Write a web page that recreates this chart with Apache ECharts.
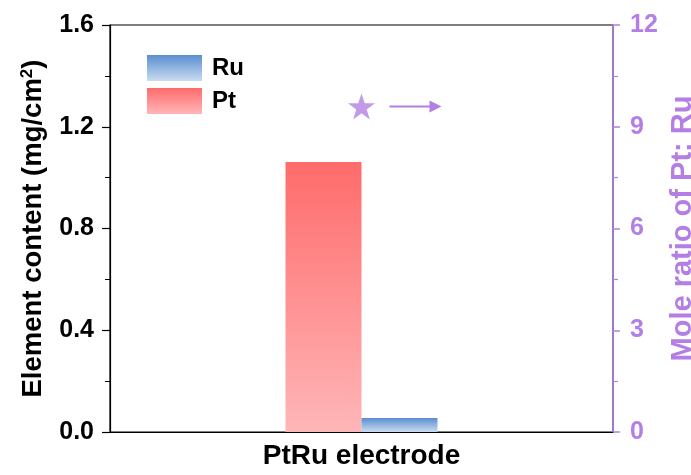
<!DOCTYPE html>
<html>
<head>
<meta charset="utf-8">
<script src="https://cdn.jsdelivr.net/npm/echarts@6/dist/echarts.min.js"></script>
<style>html,body{margin:0;padding:0;background:#fff}#c{width:691px;height:475px}</style>
</head>
<body>
<div id="c"></div>
<script>
var categories = ['PtRu electrode'];
var ptValues = [1.061];
var ruValues = [0.055];
var ratioValues = [9.6];
var leftTicks = [0, 0.4, 0.8, 1.2, 1.6];
var rightTicks = [0, 3, 6, 9, 12];

var purple = '#b47fe4';
var font = 'Liberation Sans, Arial, sans-serif';
var starPath = 'path://M50,0 L61.8,35.4 L99,35.4 L69,57.3 L80.2,92.7 L50,70.8 L19.8,92.7 L31,57.3 L1,35.4 L38.2,35.4 Z';

var chart = echarts.init(document.getElementById('c'));
var option = {
  backgroundColor: '#fff',
  animation: false,
  textStyle: {fontFamily: font},
  grid: {left: 110, right: 78, top: 25, bottom: 43, show: true, borderColor: '#000', borderWidth: 1.2,
    backgroundColor: 'transparent', outerBoundsMode: 'none', containLabel: false},
  legend: {
    orient: 'vertical', left: 147, top: 55, padding: 0, itemWidth: 55, itemHeight: 26, itemGap: 7,
    icon: 'rect', data: ['Ru', 'Pt'],
    textStyle: {fontSize: 24, fontWeight: 'bold', color: '#000', fontFamily: font, padding: [0, 0, 0, 5]}
  },
  xAxis: {
    type: 'category', data: categories,
    axisLine: {lineStyle: {color: '#000', width: 1.2}},
    axisTick: {alignWithLabel: true, length: 7, lineStyle: {color: '#000', width: 1.5}},
    axisLabel: {fontSize: 28, fontWeight: 'bold', color: '#000', margin: 10, fontFamily: font}
  },
  yAxis: [{
    type: 'value', min: 0, max: 1.6, interval: 0.4,
    name: 'Element content (mg/cm{sup|2})', nameLocation: 'middle', nameGap: 62,
    nameTextStyle: {fontSize: 27.5, fontWeight: 'bold', color: '#000', fontFamily: font,
      rich: {sup: {fontSize: 17, fontWeight: 'bold', verticalAlign: 'top', padding: [0, 0, 12, 0], color: '#000', fontFamily: font}}},
    axisLine: {show: true, lineStyle: {color: '#000', width: 1.2}},
    axisTick: {show: true, length: 8, lineStyle: {color: '#000', width: 1.2}},
    minorTick: {show: true, splitNumber: 2, length: 5, lineStyle: {color: '#000', width: 1}},
    splitLine: {show: false},
    axisLabel: {fontSize: 25, fontWeight: 'bold', color: '#000', margin: 16, fontFamily: font,
      formatter: function (v) { return leftTicks.indexOf(Math.round(v * 10) / 10) >= 0 ? v.toFixed(1) : ''; }}
  }, {
    type: 'value', min: 0, max: 12, interval: 3, position: 'right',
    name: 'Mole ratio of Pt: Ru', nameLocation: 'middle', nameGap: 54, nameRotate: 90,
    nameTextStyle: {fontSize: 29, fontWeight: 'bold', color: purple, fontFamily: font},
    axisLine: {show: true, lineStyle: {color: purple, width: 1.5}},
    axisTick: {show: true, length: 7, lineStyle: {color: purple, width: 1.5}},
    minorTick: {show: true, splitNumber: 2, length: 5, lineStyle: {color: purple, width: 1.2}},
    splitLine: {show: false},
    axisLabel: {fontSize: 25, fontWeight: 'bold', color: purple, margin: 17, fontFamily: font,
      formatter: function (v) { return rightTicks.indexOf(v) >= 0 ? String(v) : ''; }}
  }],
  series: [{
    name: 'Pt', type: 'bar', data: ptValues, barWidth: 76, barGap: '0%',
    itemStyle: {color: new echarts.graphic.LinearGradient(0, 0, 0, 1, [{offset: 0, color: '#ff6b6b'}, {offset: 1, color: '#ffb6b8'}])}
  }, {
    name: 'Ru', type: 'bar', data: ruValues, barWidth: 76, barGap: '0%',
    itemStyle: {color: new echarts.graphic.LinearGradient(0, 0, 0, 1, [{offset: 0, color: '#5b8ed0'}, {offset: 1, color: '#c9dcf1'}])}
  }, {
    name: 'ratio', type: 'scatter', yAxisIndex: 1, data: ratioValues,
    symbol: starPath, symbolSize: [27, 26],
    itemStyle: {color: purple}
  }]
};
chart.setOption(option);

var p = chart.convertToPixel({xAxisIndex: 0, yAxisIndex: 1}, [0, ratioValues[0]]);
var x0 = p[0] + 28, x1 = p[0] + 80, y = p[1];
chart.setOption({
  graphic: [{
    type: 'line', shape: {x1: x0, y1: y, x2: x1 - 8, y2: y},
    style: {stroke: purple, lineWidth: 2}
  }, {
    type: 'polygon', shape: {points: [[x1 - 12, y - 6], [x1, y], [x1 - 12, y + 6]]},
    style: {fill: purple}
  }]
});
</script>
</body>
</html>
